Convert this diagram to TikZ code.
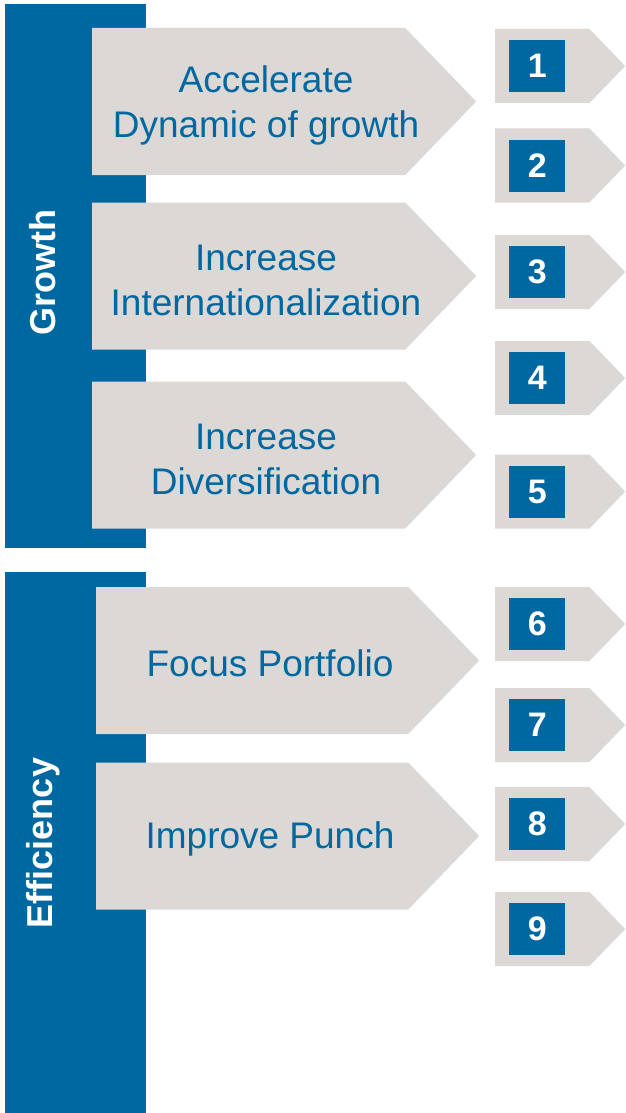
\documentclass[tikz,border=0pt]{standalone}
\usepackage{fontspec}
\setmainfont{Liberation Sans}
\usetikzlibrary{shapes.symbols,positioning}

\definecolor{brandblue}{RGB}{0,104,161}
\definecolor{panelgray}{RGB}{219,216,213}

\begin{document}
\begin{tikzpicture}[x=1pt,y=-1pt,
    bar/.style={fill=brandblue,draw=none,inner sep=0pt,anchor=north west},
    bigarrow/.style={signal,signal to=east,fill=panelgray,minimum width=384pt,
                     minimum height=147pt,signal pointer angle=92,inner sep=0pt,anchor=west},
    smallarrow/.style={signal,signal to=east,fill=panelgray,minimum width=130pt,
                       minimum height=74pt,signal pointer angle=92,inner sep=0pt,anchor=west},
    numbox/.style={fill=brandblue,text=white,minimum width=56pt,minimum height=52pt,inner sep=0pt,
                   font=\fontsize{34}{34}\selectfont\bfseries},
    goal/.style={text=brandblue,align=center,font=\fontsize{37}{45}\selectfont},
    pillar/.style={rotate=90,text=white,font=\fontsize{36}{36}\selectfont\bfseries}]
	\useasboundingbox (0,0) rectangle (625,1113);

	% the two pillars
	\node[bar,minimum width=141pt,minimum height=544pt] (growthbar) at (5,4) {};
	\node[bar,minimum width=141pt,minimum height=541pt] (efficiencybar) at (5,572) {};
	\node[pillar] (growth) at (43,273) {Growth};
	\node[pillar] (efficiency) at (43,843) {Efficiency};

	% goals
	\node[bigarrow] (dyn) at (92,101.5) {};
	\node[bigarrow] (intl) at (92,276) {};
	\node[bigarrow] (div) at (92,455) {};
	\node[bigarrow,minimum width=383pt] (focus) at (96,660.5) {};
	\node[bigarrow,minimum width=383pt] (punch) at (96,836) {};

	\node[goal] (dyntext) at (266,105.5) {Accelerate\\Dynamic of growth};
	\node[goal] (intltext) at (266,280) {Increase\\Internationalization};
	\node[goal] (divtext) at (266,459) {Increase\\Diversification};
	\node[goal] (focustext) at (270,663.5) {Focus Portfolio};
	\node[goal] (punchtext) at (270,839) {Improve Punch};

	% numbered measures
	\foreach \n/\y in {1/66,2/165.5,3/272,4/378,5/491.5,6/624,7/725,8/824,9/929}{
		\node[smallarrow] (step\n) at (495,\y) {};
		\node[numbox,right=14pt of step\n.west] (num\n) {\n};
	}
\end{tikzpicture}
\end{document}
